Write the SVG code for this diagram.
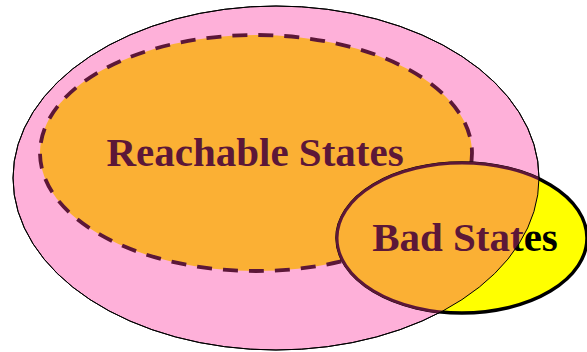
<svg xmlns="http://www.w3.org/2000/svg" width="587" height="352" viewBox="0 0 587 352">
<style>
.lbl{font-family:"Liberation Serif","Times New Roman",serif;font-weight:bold;font-size:41px;text-anchor:middle}
.purple{fill:#5C1738}
</style>
<defs>
<clipPath id="inPink"><ellipse cx="276" cy="178" rx="263" ry="172"/></clipPath>
</defs>
<rect width="587" height="352" fill="#fff"/>
<g id="universe">
<ellipse cx="276" cy="178" rx="263" ry="172" fill="#FEB0D9" stroke="#000" stroke-width="1"/>
</g>
<g id="reachable">
<ellipse cx="256" cy="153" rx="216" ry="118" fill="#FBB034" stroke="#5C1738" stroke-width="3.8" stroke-dasharray="15 11"/>
<text class="lbl purple" x="255" y="166" font-size="42">Reachable States</text>
</g>
<g id="bad">
<ellipse cx="462" cy="238" rx="125" ry="75" fill="#FFFF00" stroke="#000" stroke-width="3.5"/>
<text class="lbl" x="465" y="251" fill="#000">Bad States</text>
<g clip-path="url(#inPink)">
<ellipse cx="462" cy="238" rx="125" ry="75" fill="#FBB034" stroke="#5C1738" stroke-width="3"/>
<text class="lbl purple" x="465" y="251">Bad States</text>
</g>
</g>
<g id="connectors">
<ellipse cx="276" cy="178" rx="263" ry="172" fill="none" stroke="#000" stroke-width="1"/>
</g>
</svg>
